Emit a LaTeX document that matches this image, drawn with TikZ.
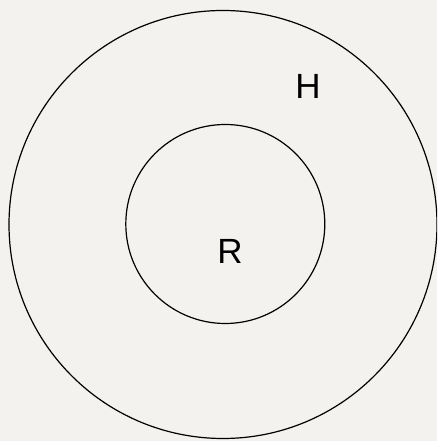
\documentclass[tikz,border=0pt]{standalone}
\usepackage{fontspec}
\setmainfont{Liberation Sans}
\definecolor{bg}{HTML}{F4F2EE}
\begin{document}
\begin{tikzpicture}[x=1pt,y=1pt,
  ring/.style={circle,draw=black,line width=1.2pt,inner sep=0pt},
  lbl/.style={font=\fontsize{35}{35}\selectfont,inner sep=0pt,anchor=center}]
\fill[bg] (0,0) rectangle (437,441);
\useasboundingbox (0,0) rectangle (437,441);
\clip (0,0) rectangle (437,441);
\node[ring,minimum size=428pt] (outer) at (223,216.5) {};
\node[ring,minimum size=199pt] (inner) at (225.3,217) {};
\node[lbl] (H) at (308,355) {H};
\node[lbl] (R) at (230,189.5) {R};
\end{tikzpicture}
\end{document}
